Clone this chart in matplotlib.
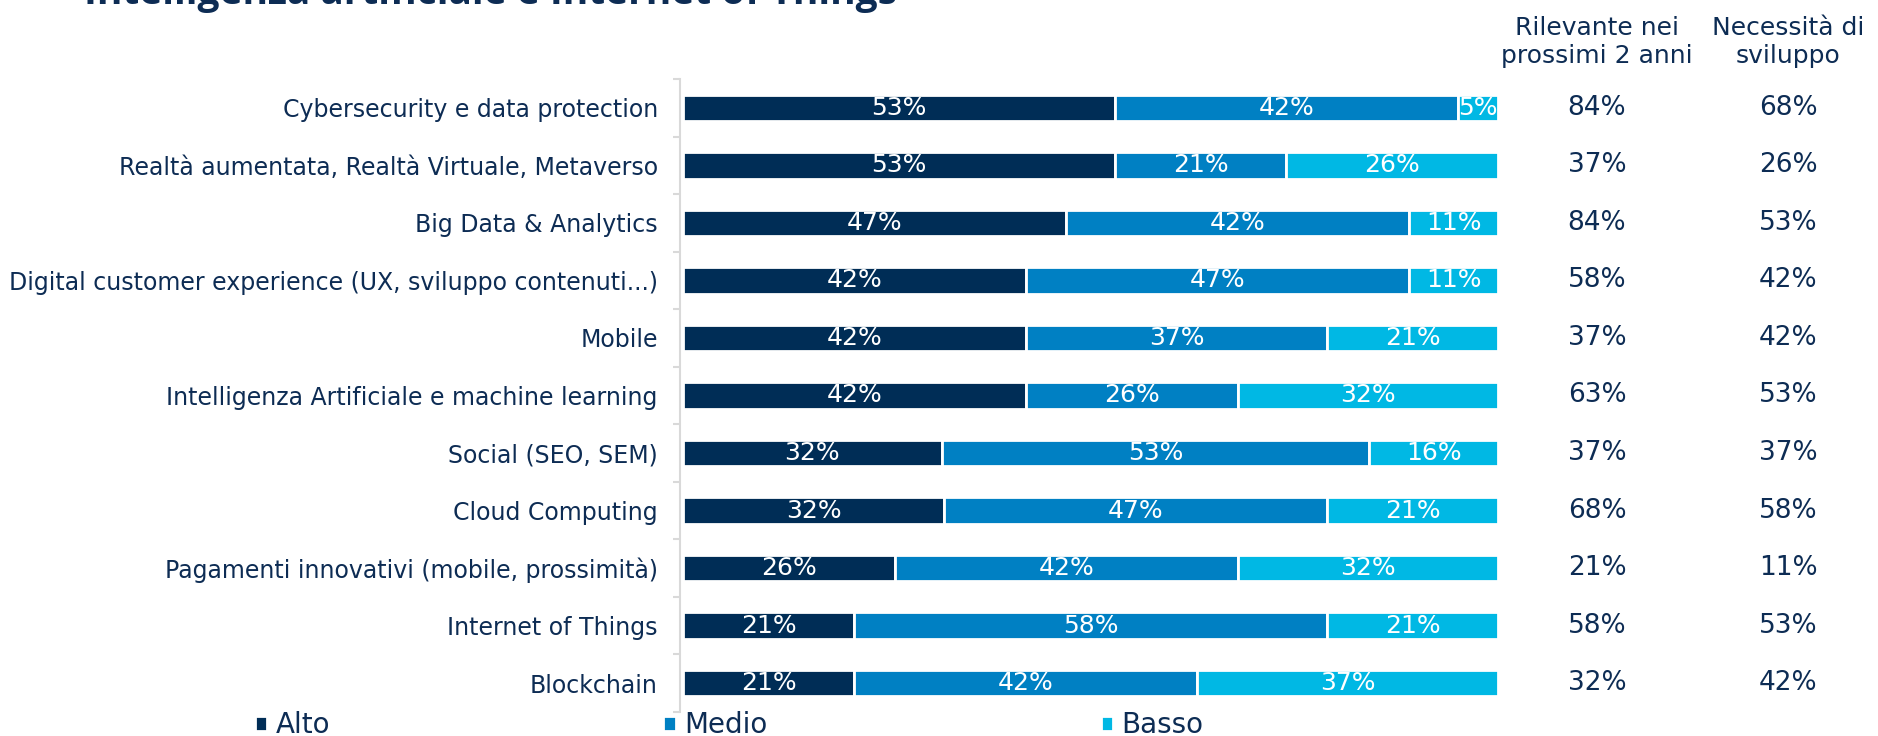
import matplotlib
matplotlib.use("Agg")
import matplotlib.pyplot as plt
import matplotlib.transforms as mtransforms
import numpy as np

plt.rcParams['font.family'] = ['DejaVu Sans']

categories = ["Cybersecurity e data protection",
              "Realtà aumentata, Realtà Virtuale, Metaverso",
              "Big Data & Analytics",
              "Digital customer experience (UX, sviluppo contenuti...)",
              "Mobile",
              "Intelligenza Artificiale e machine learning",
              "Social (SEO, SEM)",
              "Cloud Computing",
              "Pagamenti innovativi (mobile, prossimità)",
              "Internet of Things",
              "Blockchain"]
alto = [53, 53, 47, 42, 42, 42, 32, 32, 26, 21, 21]
medio = [42, 21, 42, 47, 37, 26, 53, 47, 42, 58, 42]
basso = [5, 26, 11, 11, 21, 32, 16, 21, 32, 21, 37]
rilevante = [84, 37, 84, 58, 37, 63, 37, 68, 21, 58, 32]
necessita = [68, 26, 53, 42, 42, 53, 37, 58, 11, 53, 42]
series_names = ["Alto", "Medio", "Basso"]
colors = ["#002D56", "#0080C3", "#00B8E4"]
text_col = "#0D2C54"

W, H = 1878, 736
fig = plt.figure(figsize=(W / 100, H / 100), dpi=100)
ax = fig.add_axes([680 / W, 1 - 712 / H, (1500 - 680) / W, (712 - 79) / H])

y = np.arange(len(categories))
data = np.array([alto, medio, basso], dtype=float)
widths = data / data.sum(axis=0) * 100  # rows all fill the full bar
left = np.zeros(len(categories))
for k in range(3):
    bars = ax.barh(y, widths[k], left=left, height=0.46, color=colors[k],
                   edgecolor="white", linewidth=2, label=series_names[k])
    for b, v in zip(bars, data[k]):
        t = ax.text(b.get_x() + b.get_width() / 2, b.get_y() + b.get_height() / 2,
                    f"{v:.0f}%", ha="center", va="center", color="white", fontsize=18)
        t.set_clip_path(b)
    left += widths[k]

ax.set_xlim(-0.4, 100.2)
ax.set_ylim(len(categories) - 0.5, -0.5)
ax.set_xticks([])
ax.set_yticks(y)
ax.set_yticklabels(categories, fontsize=17, color=text_col)
ax.set_yticks(np.arange(len(categories) + 1) - 0.5, minor=True)
ax.tick_params(axis="y", which="major", length=0, pad=16)
ax.tick_params(axis="y", which="minor", length=5, color="#D9D9D9", width=1.5)
for s in ["top", "right", "bottom"]:
    ax.spines[s].set_visible(False)
ax.spines["left"].set_color("#D9D9D9")
ax.spines["left"].set_linewidth(1.5)

# side columns
tr = mtransforms.blended_transform_factory(fig.transFigure, ax.transData)
col_x = [1597 / W, 1788 / W]
for cx, vals in zip(col_x, [rilevante, necessita]):
    for yi, v in zip(y, vals):
        ax.text(cx, yi, f"{v}%", transform=tr, ha="center", va="center",
                fontsize=19, color=text_col, clip_on=False)
fig.text(col_x[0], 1 - 42 / H, "Rilevante nei\nprossimi 2 anni", ha="center", va="center",
         fontsize=18, color=text_col, linespacing=1.25)
fig.text(col_x[1], 1 - 42 / H, "Necessità di\nsviluppo", ha="center", va="center",
         fontsize=18, color=text_col, linespacing=1.25)

fig.text(84 / W, 1 - 4 / H, "Intelligenza artificiale e Internet of Things", ha="left",
         va="baseline", fontsize=28, fontweight="bold", color=text_col, family="Open Sans")

fig.legend(loc="center", bbox_to_anchor=(729 / W, 11 / H), ncol=3, frameon=False,
           fontsize=20, labelcolor=text_col, handlelength=0.45, handleheight=0.45,
           handletextpad=0.3, columnspacing=12.0, borderaxespad=0)

fig.savefig("out.png", dpi=100)
